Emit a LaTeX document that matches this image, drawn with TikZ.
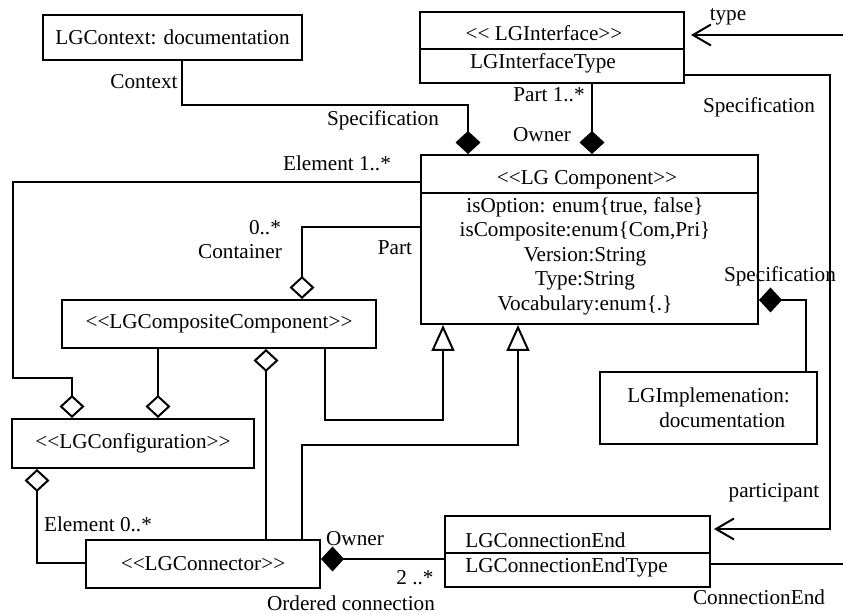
\documentclass[tikz,border=0pt]{standalone}
\usepackage{fontspec}
\setmainfont{Liberation Serif}[Ligatures=TeXOff]
\usetikzlibrary{arrows.meta,positioning,calc}

\tikzset{
  cls/.style={draw, line width=1pt, inner sep=0pt, font=\fontsize{10.6}{12.7}\selectfont},
  txt/.style={inner sep=0pt, font=\fontsize{10.6}{12.7}\selectfont},
  assoc/.style={line width=1pt},
  compos/.style={assoc, -{Diamond[length=11.5pt,width=12.5pt]}},
  aggr/.style={assoc, -{Diamond[open,length=11.5pt,width=12.5pt]}},
  gen/.style={assoc, -{Triangle[open,length=13pt,width=11.5pt]}},
  nav/.style={assoc, -{Straight Barb[length=9pt,width=10.5pt]}},
}

\begin{document}
\begin{tikzpicture}[x=0.5pt, y=-0.5pt]
    \useasboundingbox (0,0) rectangle (843,614);

    % Classes
    \node[cls, minimum width=129.5pt, minimum height=22.5pt] (ctx) at (172.5,37.5) {LGContext: documentation};

    \node[cls, minimum width=132pt, minimum height=35.5pt] (iface) at (552,47.5) {};
    \draw[assoc] (iface.west |- 0,49) -- (iface.east |- 0,49);
    \node[txt] (ifacest) at (544,33) {<< LGInterface>>};
    \node[txt] (ifacety) at (543,63) {LGInterfaceType};

    \node[cls, minimum width=168.5pt, minimum height=84.5pt] (comp) at (589.5,239.5) {};
    \draw[assoc] (comp.west |- 0,193) -- (comp.east |- 0,193);
    \node[txt] (compst) at (587,180) {<<LG Component>>};
    \node[txt, align=center, font=\fontsize{10.6}{12.25}\selectfont] (compat) at (585,256)
        {isOption: enum\{true, false\}\\ isComposite:enum\{Com,Pri\}\\ Version:String\\ Type:String\\ Vocabulary:enum\{.\}};

    \node[cls, minimum width=108.5pt, minimum height=36pt, align=left, font=\fontsize{10.6}{12.5}\selectfont] (impl) at (708.5,408)
        {LGImplemenation:\\\hspace*{16pt}documentation};

    \node[cls, minimum width=157pt, minimum height=24pt] (compo) at (219,324) {<<LGCompositeComponent>>};
    \node[cls, minimum width=121pt, minimum height=24.5pt] (config) at (133,443.5) {<<LGConfiguration>>};
    \node[cls, minimum width=117pt, minimum height=24pt] (conn) at (203,564) {<<LGConnector>>};

    \node[cls, minimum width=132.5pt, minimum height=35.5pt] (cend) at (577.5,551.5) {};
    \draw[assoc] (cend.west |- 0,553) -- (cend.east |- 0,553);
    \node[txt, anchor=west] (cendnm) at (465,540) {LGConnectionEnd};
    \node[txt, anchor=west] (cendty) at (465,567) {LGConnectionEndType};

    % Free ends
    \coordinate (typesrc) at (843,35);
    \coordinate (endout) at (843,564);

    % Connectors
    \draw[compos] (ctx.south -| 182,0) |- (468,105) -- (comp.north -| 468,0);
    \draw[compos] (iface.south -| 592,0) -- (comp.north -| 592,0);
    \draw[nav, shorten >=3pt] (typesrc) -- (iface.east |- typesrc);
    \draw[nav, shorten >=1.5pt] (iface.east |- 0,75) -| (830,529) -- (cend.east |- 0,529);
    \draw[assoc] (cend.east |- endout) -- (endout);
    \draw[compos] (impl.north -| 806,0) |- (comp.east |- 0,300);
    \draw[aggr] (comp.west |- 0,182) -| (13,378) -| (config.north -| 72,0);
    \draw[aggr] (comp.west |- 0,227) -| (compo.north -| 302,0);
    \draw[aggr] (compo.south -| 158,0) -- (config.north -| 158,0);
    \draw[aggr] (conn.north -| 266,0) -- (compo.south -| 266,0);
    \draw[gen] (compo.south -| 325,0) |- (443,420) -- (comp.south -| 443,0);
    \draw[gen] (conn.north -| 302,0) |- (518,445) -- (comp.south -| 518,0);
    \draw[aggr] (conn.west |- 0,563) -| (config.south -| 37,0);
    \draw[compos] (cend.west |- 0,559) -- (conn.east |- 0,559);

    % Role labels
    \node[txt, anchor=east] (lcontext) at (178,82) {Context};
    \node[txt] (lspecctx) at (383,120) {Specification};
    \node[txt] (lpart1) at (549,95) {Part 1..*};
    \node[txt] (lowner1) at (542,135) {Owner};
    \node[txt] (lspecif) at (759,107) {Specification};
    \node[txt] (ltype) at (728,17) {type};
    \node[txt] (lelem1) at (337,163) {Element 1..*};
    \node[txt] (lmult) at (265,228) {0..*};
    \node[txt] (lcont) at (240,252) {Container};
    \node[txt] (lpart) at (395,248) {Part};
    \node[txt] (lspecimpl) at (780,276) {Specification};
    \node[txt] (lpartic) at (774,493) {participant};
    \node[txt] (lcend) at (759,597) {ConnectionEnd};
    \node[txt] (lelem0) at (98,524) {Element 0..*};
    \node[txt] (lowner2) at (355,539) {Owner};
    \node[txt] (lmult2) at (415,578) {2 ..*};
    \node[txt] (lorder) at (351,603) {Ordered connection};
\end{tikzpicture}
\end{document}
